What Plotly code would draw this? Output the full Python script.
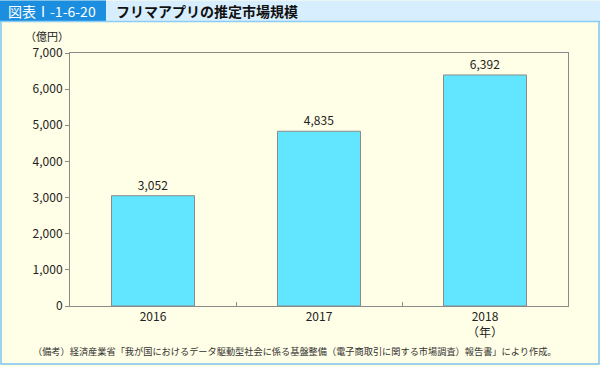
import plotly.graph_objects as go

years = ["2016", "2017", "2018"]
values = [3052, 4835, 6392]
labels = ["3,052", "4,835", "6,392"]

FONT = "Noto Sans CJK JP"
W, H = 600, 367
L, R, T, B = 70, 32, 53, 61
pw, ph = W - L - R, H - T - B

def px(x):
    return (x - L) / pw

def py(y):
    return (H - B - y) / ph

fig = go.Figure(go.Bar(
    x=years, y=values, width=0.5,
    marker=dict(color="#62e6ff", line=dict(color="#8a8a8a", width=1)),
    text=labels, textposition="outside", cliponaxis=False,
    textfont=dict(family=FONT, size=12, color="#222"),
))

shapes = [
    dict(type="rect", xref="paper", yref="paper", x0=px(1), x1=px(599), y0=py(364), y1=py(21),
         fillcolor="#fffee6", line=dict(color="#7cc4f4", width=1.5), layer="below"),
    dict(type="rect", xref="paper", yref="paper", x0=px(0), x1=px(600), y0=py(21), y1=py(0.5),
         fillcolor="#d7eefe", line=dict(width=0), layer="below"),
    dict(type="rect", xref="paper", yref="paper", x0=px(0), x1=px(106), y0=py(21), y1=py(0.5),
         fillcolor="#1b8ee0", line=dict(width=0), layer="below"),
    dict(type="line", xref="paper", yref="paper", x0=px(0), x1=px(600), y0=py(21.5), y1=py(21.5),
         line=dict(color="#8ccdf6", width=1.5)),
]

def ann(text, x, y, size, color="#222", xanchor="center"):
    return dict(text=text, xref="paper", yref="paper", x=px(x), y=py(y),
                xanchor=xanchor, yanchor="middle", showarrow=False,
                font=dict(family=FONT, size=size, color=color))

annotations = [
    ann("図表Ⅰ-1-6-20", 52, 11, 14, "white"),
    ann("<b>フリマアプリの推定市場規模</b>", 114, 11, 14, "#111", "left"),
    ann("（億円）", 47, 36.5, 11),
    ann("（年）", 485, 331, 12),
    ann("（備考）経済産業省「我が国におけるデータ駆動型社会に係る基盤整備（電子商取引に関する市場調査）報告書」により作成。",
        31, 351, 9.2, "#333", "left"),
]

fig.update_layout(
    width=W, height=H, margin=dict(l=L, r=R, t=T, b=B),
    paper_bgcolor="#fffee6", plot_bgcolor="white",
    showlegend=False, shapes=shapes, annotations=annotations,
)
fig.update_xaxes(type="category", showline=True, linecolor="#8a8a8a", linewidth=1, mirror=True,
                 ticks="inside", tickson="boundaries", ticklen=4, tickcolor="#8a8a8a",
                 tickfont=dict(family=FONT, size=12, color="#222"), showgrid=False)
fig.update_yaxes(range=[0, 7000], dtick=1000, tickformat=",", showline=True, linecolor="#8a8a8a",
                 linewidth=1, mirror=True, ticks="outside", ticklen=4, tickcolor="#8a8a8a",
                 tickfont=dict(family=FONT, size=12, color="#222"), showgrid=False, zeroline=False)

fig.write_html("out.html", config={"displayModeBar": False},
               post_script="document.body.style.margin='0';")
